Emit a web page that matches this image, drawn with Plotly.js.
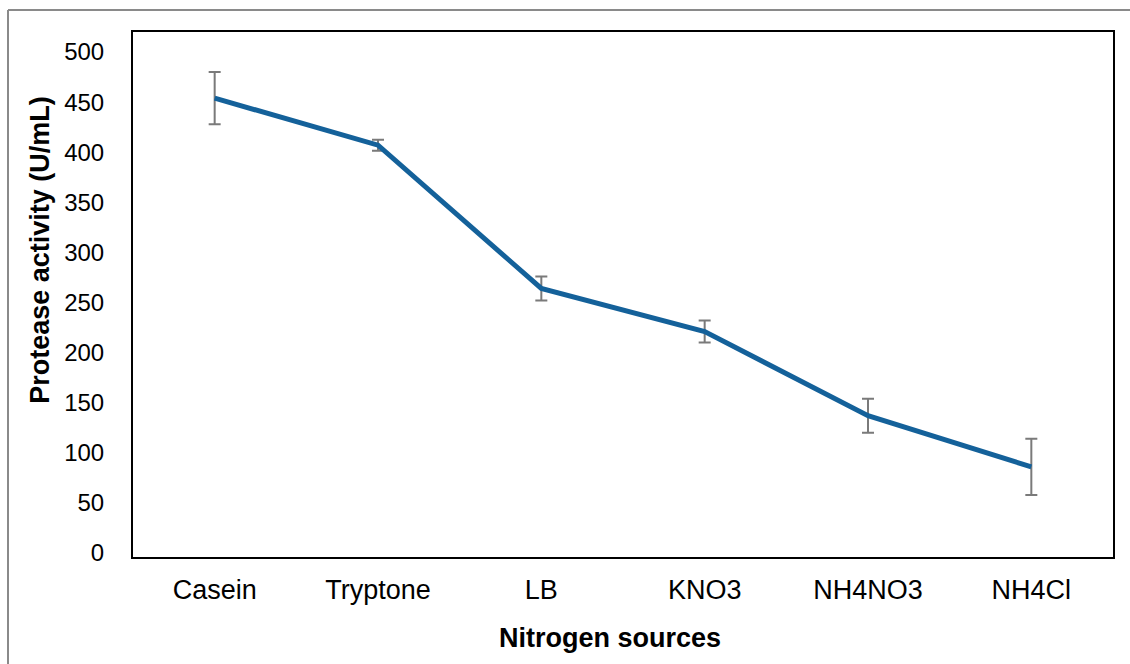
<!DOCTYPE html>
<html>
<head>
<meta charset="utf-8">
<script src="https://cdn.plot.ly/plotly-3.0.1.min.js"></script>
<style>
html,body{margin:0;padding:0;background:#fff;}
#chart{width:1130px;height:664px;}
</style>
</head>
<body>
<div id="chart"></div>
<script>
const categories = ["Casein", "Tryptone", "LB", "KNO3", "NH4NO3", "NH4Cl"];
const activity = [454, 407, 264, 221, 137, 86];
const errors = [26, 5.5, 12, 11, 17, 28];
const yTicks = [0, 50, 100, 150, 200, 250, 300, 350, 400, 450, 500];
const xTitle = "Nitrogen sources";
const yTitle = "Protease activity (U/mL)";

const FONT = "Arial, 'Liberation Sans', sans-serif";

const trace = {
  type: "scatter",
  mode: "lines",
  x: categories,
  y: activity,
  line: {color: "#14619a", width: 5},
  error_y: {type: "data", array: errors, visible: true, color: "#7a7a7a", thickness: 2, width: 6},
  hoverinfo: "x+y"
};

const layout = {
  width: 1130,
  height: 664,
  margin: {l: 133, r: 17, t: 32, b: 107},
  paper_bgcolor: "#ffffff",
  plot_bgcolor: "#ffffff",
  showlegend: false,
  font: {family: FONT, color: "#000"},
  xaxis: {
    type: "category",
    range: [-0.5, 5.5],
    showgrid: false,
    zeroline: false,
    showline: true,
    mirror: true,
    linecolor: "#000",
    linewidth: 2,
    ticks: "",
    ticklabelstandoff: 8,
    tickfont: {family: FONT, size: 27, color: "#000"}
  },
  yaxis: {
    range: [-4, 520],
    tickvals: yTicks,
    ticktext: yTicks.map(String),
    showgrid: false,
    zeroline: false,
    showline: true,
    mirror: true,
    linecolor: "#000",
    linewidth: 2,
    ticks: "",
    ticklabelstandoff: 22,
    tickfont: {family: FONT, size: 24, color: "#000"}
  },
  annotations: [
    {text: "<b>" + yTitle + "</b>", xref: "paper", yref: "paper", x: -0.0949, y: 0.585,
     xanchor: "center", yanchor: "middle", textangle: -90, showarrow: false,
     font: {family: FONT, size: 27, color: "#000"}},
    {text: "<b>" + xTitle + "</b>", xref: "paper", yref: "paper", x: 0.4867, y: -0.154,
     xanchor: "center", yanchor: "middle", showarrow: false,
     font: {family: FONT, size: 27, color: "#000"}}
  ],
  shapes: [
    {type: "line", xref: "paper", yref: "paper", x0: (8 - 133) / 980, x1: 1.1, y0: (557 - 10) / 525, y1: (557 - 10) / 525,
     line: {color: "#8a8a8a", width: 2}},
    {type: "line", xref: "paper", yref: "paper", x0: (8 - 133) / 980, x1: (8 - 133) / 980, y0: (557 - 10) / 525, y1: -0.3,
     line: {color: "#8a8a8a", width: 2}}
  ]
};

Plotly.newPlot("chart", [trace], layout, {displayModeBar: false, staticPlot: true});
</script>
</body>
</html>
